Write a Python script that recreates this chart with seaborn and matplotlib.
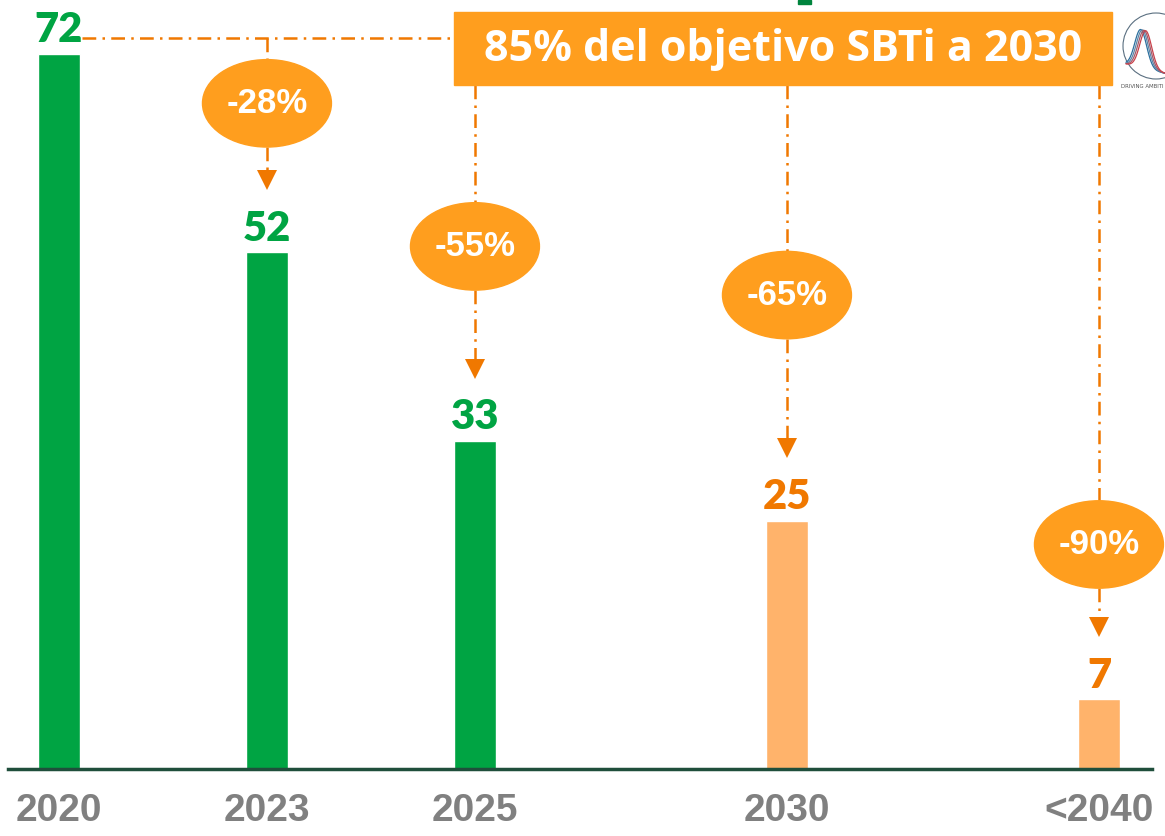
import matplotlib
matplotlib.use("Agg")
import matplotlib.pyplot as plt
import numpy as np
import pandas as pd
import seaborn as sns
from matplotlib.patches import Ellipse, Rectangle, Circle

# data
years = ["2020", "2023", "2025", "2030", "<2040"]
emissions = [72, 52, 33, 25, 7]
status = ["real", "real", "real", "objetivo", "objetivo"]
reductions = ["-28%", "-55%", "-65%", "-90%"]
banner_text = "85% del objetivo SBTi a 2030"

# layout (slot positions along x, ellipse heights in data units)
slots = [0, 2, 4, 7, 10]
bubble_y = [67.0, 52.6, 47.7, 22.6]

GREEN = "#00a443"
LIGHT_ORANGE = "#ffb36b"
ORANGE = "#f07800"
BUBBLE = "#ff9e1e"
GRAY = "#808080"

df = pd.DataFrame({"slot": slots, "value": emissions, "status": status, "year": years})

sns.set_style("white")
fig = plt.figure(figsize=(11.65, 8.36), dpi=100)
ax = fig.add_axes([8 / 1165, 67 / 836, 1144 / 1165, 769 / 836])

sns.barplot(data=df, x="slot", y="value", hue="status", native_scale=True,
            palette={"real": GREEN, "objetivo": LIGHT_ORANGE}, width=0.2,
            dodge=False, legend=False, saturation=1, ax=ax)

ax.set_xlim(-0.49, 10.51)
ax.set_ylim(0, 77.4)
ax.set_xlabel("")
ax.set_ylabel("")
ax.set_yticks([])
ax.set_xticks(slots, years)
ax.tick_params(axis="x", length=0, pad=17)
for lab in ax.get_xticklabels():
    lab.set_family(["Liberation Sans Narrow", "Liberation Sans"])
    lab.set_fontweight("bold")
    lab.set_fontsize(28)
    lab.set_color(GRAY)
for side in ["top", "left", "right"]:
    ax.spines[side].set_visible(False)
ax.spines["bottom"].set_color("#1f4e3b")
ax.spines["bottom"].set_linewidth(2.5)
ax.spines["bottom"].set_zorder(5)

# value labels
for x, v, s in zip(slots, emissions, status):
    ax.annotate(str(v), (x, v), xytext=(0, 8.5), textcoords="offset points",
                ha="center", va="baseline", fontsize=30, fontweight="heavy",
                family=["Lato", "DejaVu Sans"],
                color=GREEN if s == "real" else ORANGE)

dash = (0, (5.5, 2.5, 1, 2.5))
lw = 1.8

# banner
ax.add_patch(Rectangle((3.80, 68.8), 6.33, 7.4, color=BUBBLE, zorder=3, clip_on=False))
ax.text(6.96, 72.4, banner_text, ha="center", va="center", color="white",
        fontsize=31, fontweight="bold", family=["Open Sans", "DejaVu Sans"], zorder=4)
# small cut-off mark at the top
ax.add_patch(Rectangle((7.11, 76.95), 0.12, 0.5, color="#00843d", clip_on=False, zorder=3))

# horizontal reference line from 2020 to the banner
ax.plot([0.22, 3.80], [73.6, 73.6], color=ORANGE, lw=lw, linestyle=dash, zorder=2)

ew, eh = 1.24, 8.8
for i, (lab, by) in enumerate(zip(reductions, bubble_y)):
    x = slots[i + 1]
    v = emissions[i + 1]
    top = 73.6 if i == 0 else 68.8
    tip = v + 6.4
    ax.plot([x, x], [top, by + eh / 2], color=ORANGE, lw=lw, linestyle=dash, zorder=2)
    ax.plot([x, x], [by - eh / 2, tip + 1.6], color=ORANGE, lw=lw, linestyle=dash, zorder=2)
    ax.plot([x], [tip + 0.9], marker="v", markersize=14, color=ORANGE,
            markeredgewidth=0, zorder=3, clip_on=False)
    ax.add_patch(Ellipse((x, by), ew, eh, color=BUBBLE, zorder=3, clip_on=False))
    ax.text(x, by, lab, ha="center", va="center", color="white", fontsize=25,
            fontweight="bold", family=["Liberation Sans", "DejaVu Sans"], zorder=4)

# logo in the corner
lax = fig.add_axes([1118 / 1165, 1 - 96 / 836, 47 / 1165, 84 / 836])
lax.set_xlim(0, 47)
lax.set_ylim(96, 12)
lax.axis("off")
lax.add_patch(Circle((38, 46), 33, fill=False, edgecolor="#5a6f80", lw=0.8))
t = np.linspace(0, 1, 60)
for k, c in enumerate(["#2b6f9e", "#5b86a8", "#a05a6a", "#c8404a"]):
    xs = 8 + 42 * t
    ys = 64 - 38 * np.exp(-((t - 0.35 - 0.04 * k) / 0.2) ** 2) + 10 * t
    lax.plot(xs, ys, color=c, lw=0.9)
lax.text(3, 87, "DRIVING AMBITI", fontsize=3.9, color="#555555", va="center", ha="left")

fig.savefig("out.png", dpi=100)
